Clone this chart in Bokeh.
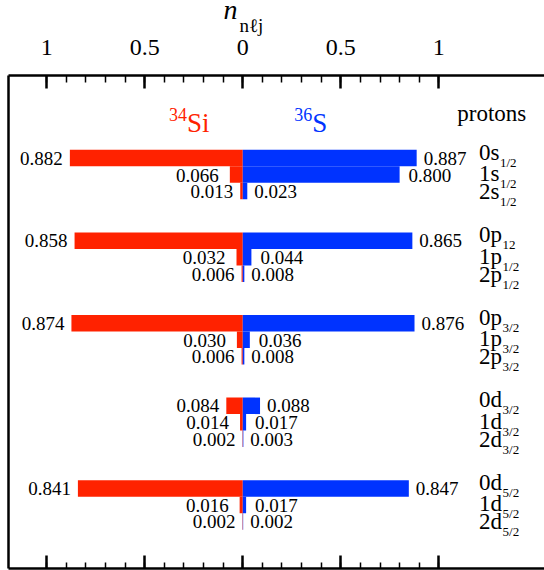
from bokeh.plotting import figure
from bokeh.models import (ColumnDataSource, Range1d, LinearAxis, FixedTicker,
                          CustomJSTickFormatter, Label, Title)
from bokeh.core.properties import value
from bokeh.embed import file_html
from bokeh.resources import INLINE

# ---------------- data ----------------
groups = ["s1/2", "p1/2", "p3/2", "d3/2", "d5/2"]
si34 = [[0.882, 0.066, 0.013],
        [0.858, 0.032, 0.006],
        [0.874, 0.030, 0.006],
        [0.084, 0.014, 0.002],
        [0.841, 0.016, 0.002]]
s36 = [[0.887, 0.800, 0.023],
       [0.865, 0.044, 0.008],
       [0.876, 0.036, 0.008],
       [0.088, 0.017, 0.003],
       [0.847, 0.017, 0.002]]
main_labels = [["0s", "1s", "2s"],
               ["0p", "1p", "2p"],
               ["0p", "1p", "2p"],
               ["0d", "1d", "2d"],
               ["0d", "1d", "2d"]]
sub_labels = [["1/2", "1/2", "1/2"],
              ["12", "1/2", "1/2"],
              ["3/2", "3/2", "3/2"],
              ["3/2", "3/2", "3/2"],
              ["5/2", "5/2", "5/2"]]
tick_values = [-1, -0.5, 0, 0.5, 1]
minor_tick_values = [-1, -0.9, -0.8, -0.7, -0.6, -0.5, -0.4, -0.3, -0.2, -0.1, 0,
                     0.1, 0.2, 0.3, 0.4, 0.5, 0.6, 0.7, 0.8, 0.9, 1]

# ---------------- style ----------------
FONT = "Liberation Serif"
RED = "#ff2200"
BLUE = "#0033ff"
ROWS_PER_GROUP = 5
VAL_FS = 19
ORB_FS = 23
SUB_FS = 13
CHAR_W = {"0": 0.5, "1": 0.5, "2": 0.5, "s": 0.389, "p": 0.5, "d": 0.5}
MAIN_YO = [-6.0, -1.0, 0.5]
RED_GAP = [7, 11, 7]
BLUE_GAP = [7, 9, 7]

# ---------------- build sources ----------------
bar = dict(y=[], rl=[], bl=[], rtxt=[], btxt=[], yo=[], rxo=[], bxo=[])
orb = dict(y=[], main=[], sub=[], myo=[], syo=[], sxo=[])
for g in range(len(groups)):
    for r in range(3):
        y = -(ROWS_PER_GROUP * g + r)
        bar["y"].append(y)
        bar["rl"].append(-si34[g][r])
        bar["bl"].append(s36[g][r])
        bar["rtxt"].append(f"{si34[g][r]:.3f}")
        bar["btxt"].append(f"{s36[g][r]:.3f}")
        bar["yo"].append(0 if r == 0 else 0.5)
        bar["rxo"].append(-RED_GAP[r])
        bar["bxo"].append(BLUE_GAP[r])
        m = main_labels[g][r]
        orb["y"].append(y)
        orb["main"].append(m)
        orb["sub"].append(sub_labels[g][r])
        orb["myo"].append(MAIN_YO[r])
        orb["syo"].append(MAIN_YO[r] + 10)
        orb["sxo"].append(sum(CHAR_W[c] for c in m) * ORB_FS + 0.5)

src = ColumnDataSource(bar)
osrc = ColumnDataSource(orb)

p = figure(width=544, height=570,
           x_range=Range1d(-1.195, 1.539), y_range=Range1d(-24.85, 5.0),
           x_axis_location=None, y_axis_location=None,
           output_backend="svg", toolbar_location=None,
           min_border_left=8, min_border_right=0,
           min_border_top=75, min_border_bottom=2,
           background_fill_color="white", border_fill_color="white",
           outline_line_color=None)
p.grid.visible = False

ticker = FixedTicker(ticks=tick_values, minor_ticks=minor_tick_values)
fmt = CustomJSTickFormatter(code="return String(Math.abs(tick));")

top = LinearAxis(ticker=ticker, formatter=fmt,
                 major_tick_in=13, major_tick_out=0,
                 minor_tick_in=7, minor_tick_out=0,
                 axis_line_width=2.5, major_tick_line_width=2.5,
                 minor_tick_line_width=1.5,
                 major_label_text_font=FONT, major_label_text_font_size="24px",
                 major_label_text_color="black", major_label_standoff=21)
p.add_layout(top, "above")

# axis title n_{nlj}: subscript panel just above the axis, italic n above it
p.add_layout(Title(text="nℓj", align="left", offset=231, standoff=2,
                   text_font=FONT, text_font_size="19px", text_font_style="normal",
                   text_color="black"), "above")
p.add_layout(Title(text="n", align="left", offset=215, standoff=-27,
                   text_font=FONT, text_font_size="28px", text_font_style="italic",
                   text_color="black"), "above")

bottom = LinearAxis(ticker=ticker, formatter=fmt,
                    major_tick_in=13, major_tick_out=0,
                    minor_tick_in=6, minor_tick_out=0,
                    axis_line_width=2.5, major_tick_line_width=2.5,
                    minor_tick_line_width=1.5,
                    major_label_text_font_size="0px", major_label_standoff=0)
p.add_layout(bottom, "below")

left = LinearAxis(ticker=FixedTicker(ticks=[]),
                  major_tick_in=0, major_tick_out=0,
                  minor_tick_in=0, minor_tick_out=0,
                  axis_line_width=2.5,
                  major_label_text_font_size="0px", major_label_standoff=0)
p.add_layout(left, "left")

# bars
p.hbar(y="y", left="rl", right=0, height=1, source=src,
       fill_color=RED, line_color=None)
p.hbar(y="y", left=0, right="bl", height=1, source=src,
       fill_color=BLUE, line_color=None)

# value labels
p.text(x="rl", y="y", text="rtxt", source=src, x_offset="rxo", y_offset="yo",
       text_align="right", text_baseline="alphabetic",
       text_font=value(FONT), text_font_size=f"{VAL_FS}px", text_color="black")
p.text(x="bl", y="y", text="btxt", source=src, x_offset="bxo", y_offset="yo",
       text_align="left", text_baseline="alphabetic",
       text_font=value(FONT), text_font_size=f"{VAL_FS}px", text_color="black")

# orbital labels
ORB_X = 1.205
p.text(x=ORB_X, y="y", text="main", source=osrc, y_offset="myo",
       text_align="left", text_baseline="alphabetic",
       text_font=value(FONT), text_font_size=f"{ORB_FS}px", text_color="black")
p.text(x=ORB_X, y="y", text="sub", source=osrc, x_offset="sxo", y_offset="syo",
       text_align="left", text_baseline="alphabetic",
       text_font=value(FONT), text_font_size=f"{SUB_FS}px", text_color="black")

# headers
p.add_layout(Label(x=-0.284, y=2.15, text="Si", text_font=FONT, text_font_size="27px",
                   text_color=RED, text_align="left", text_baseline="alphabetic"))
p.add_layout(Label(x=-0.284, y=2.65, text="34", text_font=FONT, text_font_size="18px",
                   text_color=RED, text_align="right", text_baseline="alphabetic"))
p.add_layout(Label(x=0.354, y=2.15, text="S", text_font=FONT, text_font_size="27px",
                   text_color=BLUE, text_align="left", text_baseline="alphabetic"))
p.add_layout(Label(x=0.354, y=2.65, text="36", text_font=FONT, text_font_size="18px",
                   text_color=BLUE, text_align="right", text_baseline="alphabetic"))
p.add_layout(Label(x=1.094, y=2.69, text="protons", text_font=FONT, text_font_size="23px",
                   text_color="black", text_align="left", text_baseline="alphabetic"))

open("out.html", "w").write(file_html(p, INLINE))
